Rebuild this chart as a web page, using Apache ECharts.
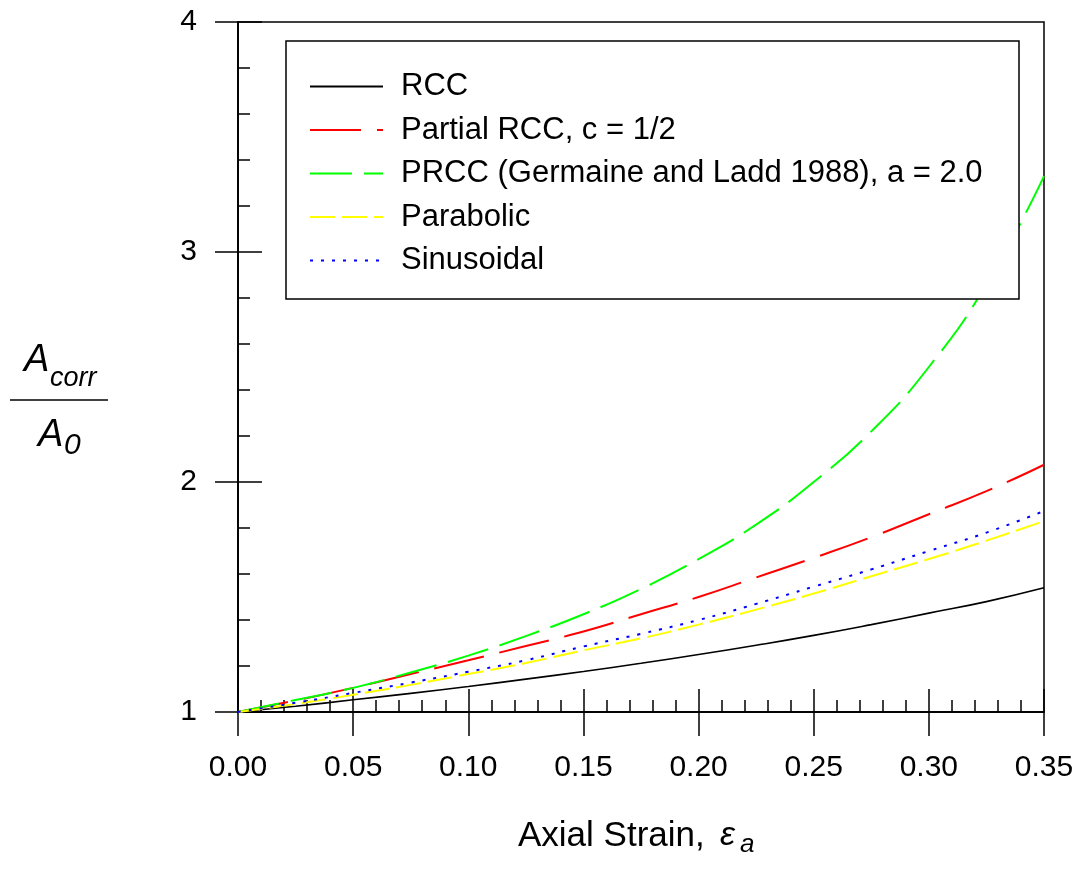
<!DOCTYPE html>
<html><head><meta charset="utf-8">
<script src="https://cdn.jsdelivr.net/npm/echarts@6/dist/echarts.min.js"></script>
<style>html,body{margin:0;padding:0;background:#fff}#c{width:1080px;height:871px}</style>
</head><body><div id="c"></div>
<script>
const strain     = [0, 0.025, 0.05, 0.075, 0.10, 0.125, 0.15, 0.175, 0.20, 0.225, 0.25, 0.275, 0.30, 0.325, 0.35];
const rcc        = [1.00, 1.025, 1.053, 1.081, 1.111, 1.143, 1.176, 1.212, 1.25, 1.29, 1.333, 1.38, 1.43, 1.48, 1.54];
const partialRcc = [1.00, 1.05, 1.105, 1.165, 1.225, 1.287, 1.35, 1.425, 1.50, 1.585, 1.67, 1.76, 1.86, 1.96, 2.075];
const prcc       = [1.00, 1.052, 1.105, 1.172, 1.245, 1.33, 1.425, 1.535, 1.665, 1.815, 2.00, 2.22, 2.50, 2.86, 3.33];
const parabolic  = [1.00, 1.035, 1.075, 1.118, 1.165, 1.213, 1.268, 1.32, 1.38, 1.445, 1.515, 1.59, 1.665, 1.745, 1.83];
const sinusoidal = [1.00, 1.04, 1.083, 1.128, 1.175, 1.225, 1.285, 1.34, 1.40, 1.47, 1.545, 1.62, 1.70, 1.78, 1.874];
const seriesNames = ['RCC', 'Partial RCC, c = 1/2', 'PRCC (Germaine and Ladd 1988), a = 2.0', 'Parabolic', 'Sinusoidal'];
const seriesValues = [rcc, partialRcc, prcc, parabolic, sinusoidal];
const seriesColors = ['#000000', '#ff0000', '#00ff00', '#ffff00', '#0000ff'];
const seriesDash = ['solid', [51, 16], [42, 12], [25, 7], [3, 8]];
const seriesWidth = [1.6, 2, 2, 2, 2];

const FONT = '"Liberation Sans", Arial, Helvetica, sans-serif';
const chart = echarts.init(document.getElementById('c'), null, {renderer: 'canvas'});

const series = seriesNames.map((name, i) => ({
  name: name,
  type: 'line',
  xAxisIndex: 0,
  yAxisIndex: 0,
  symbol: 'none',
  smooth: 0.5,
  z: 2,
  data: strain.map((x, j) => [x, seriesValues[i][j]]),
  lineStyle: {color: seriesColors[i], width: seriesWidth[i], type: seriesDash[i]},
  itemStyle: {color: seriesColors[i]}
}));

const axisLineStyle = {color: '#000', width: 1.5};

chart.setOption({
  animation: false,
  backgroundColor: '#fff',
  grid: {left: 238, top: 22, width: 806, height: 690, show: true, borderColor: '#000', borderWidth: 1.5, backgroundColor: 'transparent'},
  xAxis: [
    {type: 'value', min: 0, max: 0.35, interval: 0.05, position: 'bottom',
     axisLine: {show: true, onZero: false, lineStyle: axisLineStyle},
     axisTick: {show: true, inside: false, length: 24, lineStyle: axisLineStyle},
     axisLabel: {show: true, formatter: v => v.toFixed(2), fontSize: 30, color: '#000', fontFamily: FONT, margin: 41},
     splitLine: {show: false}},
    {type: 'value', min: 0, max: 0.35, interval: 0.05, position: 'bottom',
     axisLine: {show: true, onZero: false, lineStyle: axisLineStyle},
     axisTick: {show: true, inside: true, length: 23, lineStyle: axisLineStyle},
     minorTick: {show: true, splitNumber: 5, length: 12, lineStyle: axisLineStyle},
     axisLabel: {show: false}, splitLine: {show: false}, minorSplitLine: {show: false}}
  ],
  yAxis: [
    {type: 'value', min: 1, max: 4, interval: 1, position: 'left',
     axisLine: {show: true, onZero: false, lineStyle: axisLineStyle},
     axisTick: {show: true, inside: false, length: 23, lineStyle: axisLineStyle},
     axisLabel: {show: true, fontSize: 30, color: '#000', fontFamily: FONT, margin: 41},
     splitLine: {show: false}},
    {type: 'value', min: 1, max: 4, interval: 1, position: 'left',
     axisLine: {show: true, onZero: false, lineStyle: axisLineStyle},
     axisTick: {show: true, inside: true, length: 24, lineStyle: axisLineStyle},
     minorTick: {show: true, splitNumber: 5, length: 12, lineStyle: axisLineStyle},
     axisLabel: {show: false}, splitLine: {show: false}, minorSplitLine: {show: false}}
  ],
  legend: {
    show: true, orient: 'vertical', left: 309, top: 71, padding: 0,
    itemWidth: 73, itemHeight: 14, itemGap: 12.5, selectedMode: false, z: 100,
    data: seriesNames,
    itemStyle: {color: 'rgba(0,0,0,0)', borderColor: 'rgba(0,0,0,0)', borderWidth: 0, opacity: 0},
    textStyle: {fontSize: 31, color: '#000', fontFamily: FONT, padding: [0, 0, 0, 13]}
  },
  graphic: [
    {type: 'rect', z: 50, shape: {x: 286, y: 41, width: 733, height: 258},
     style: {fill: '#fff', stroke: '#000', lineWidth: 1.5}},
    // y-axis title: A_corr / A_0
    {type: 'text', z: 60, x: 24, y: 360, style: {text: 'A', fontSize: 38, fontStyle: 'italic', fontFamily: FONT, fill: '#000', verticalAlign: 'middle', align: 'left'}},
    {type: 'text', z: 60, x: 50, y: 378, style: {text: 'corr', fontSize: 27, fontStyle: 'italic', fontFamily: FONT, fill: '#000', verticalAlign: 'middle', align: 'left'}},
    {type: 'line', z: 60, shape: {x1: 10, y1: 400, x2: 108, y2: 400}, style: {stroke: '#000', lineWidth: 1.5}},
    {type: 'text', z: 60, x: 38, y: 435, style: {text: 'A', fontSize: 38, fontStyle: 'italic', fontFamily: FONT, fill: '#000', verticalAlign: 'middle', align: 'left'}},
    {type: 'text', z: 60, x: 64, y: 446, style: {text: '0', fontSize: 30, fontStyle: 'italic', fontFamily: FONT, fill: '#000', verticalAlign: 'middle', align: 'left'}},
    // x-axis title
    {type: 'text', z: 60, x: 518, y: 836, style: {text: 'Axial Strain,', fontSize: 35, fontFamily: FONT, fill: '#000', verticalAlign: 'middle', align: 'left'}},
    {type: 'text', z: 60, x: 720, y: 836, style: {text: 'ε', fontSize: 34, fontStyle: 'italic', fontFamily: FONT, fill: '#000', verticalAlign: 'middle', align: 'left'}},
    {type: 'text', z: 60, x: 740, y: 845, style: {text: 'a', fontSize: 26, fontStyle: 'italic', fontFamily: FONT, fill: '#000', verticalAlign: 'middle', align: 'left'}}
  ],
  series: series
});
</script>
</body></html>
